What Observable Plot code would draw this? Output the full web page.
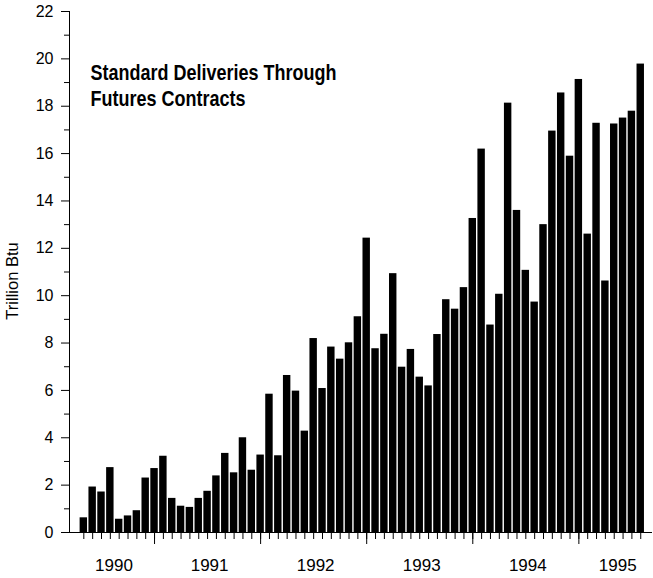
<!DOCTYPE html>
<html>
<head>
<meta charset="utf-8">
<script src="https://cdn.jsdelivr.net/npm/d3@7"></script>
<script src="https://cdn.jsdelivr.net/npm/@observablehq/plot@0.6"></script>
<style>
  html, body { margin: 0; padding: 0; background: #fff; }
  #chart { width: 653px; height: 578px; }
</style>
</head>
<body>
<div id="chart"></div>
<script>
// Monthly standard deliveries through futures contracts, May 1990 – Aug 1995 (trillion Btu)
const firstYear = 1990;
const firstMonth = 5; // May
const deliveries = [
  0.62, 1.92, 1.71, 2.74, 0.56, 0.70, 0.92, 2.30,             // 1990 May–Dec
  2.70, 3.22, 1.44, 1.11, 1.06, 1.44, 1.74, 2.39, 3.34, 2.52, 4.00, 2.63, // 1991
  3.27, 5.84, 3.24, 6.63, 5.97, 4.28, 8.19, 6.08, 7.83, 7.32, 8.01, 9.11, // 1992
  12.43, 7.76, 8.37, 10.93, 6.98, 7.73, 6.56, 6.19, 8.36, 9.83, 9.43, 10.34, // 1993
  13.26, 16.19, 8.76, 10.06, 18.13, 13.60, 11.07, 9.73, 13.00, 16.95, 18.56, 15.89, // 1994
  19.13, 12.60, 17.28, 10.62, 17.25, 17.50, 17.79, 19.78      // 1995 Jan–Aug
];
const yearLabels = ["1990", "1991", "1992", "1993", "1994", "1995"];
const yTickLabels = [0, 2, 4, 6, 8, 10, 12, 14, 16, 18, 20, 22];
const titleLines = ["Standard Deliveries Through", "Futures Contracts"];
const yAxisTitle = "Trillion Btu";

const months = deliveries.map((v, i) => ({
  i,
  year: firstYear + Math.floor((firstMonth - 1 + i) / 12),
  month: ((firstMonth - 1 + i) % 12) + 1,
  v
}));

const xMin = -1.62, xMax = 64.33;
const janIdx = months.filter(d => d.month === 1).map(d => d.i);
const yearPos = yearLabels.map(y => {
  const yr = +y;
  const start = (yr - firstYear) * 12 - (firstMonth - 1);
  const end = start + 12;
  return {label: y, x: (Math.max(start, xMin) + Math.min(end, xMax)) / 2};
});
const minorY = d3.range(1, 22, 2);

const font = "'Liberation Sans', Arial, Helvetica, sans-serif";

const chart = Plot.plot({
  width: 653,
  height: 578,
  marginLeft: 69,
  marginRight: 1,
  marginTop: 11,
  marginBottom: 46,
  style: {fontFamily: font, color: "#000", background: "#fff"},
  x: {type: "linear", domain: [xMin, xMax], axis: null},
  y: {domain: [0, 22], axis: null},
  marks: [
    Plot.rectY(months, {x1: d => d.i - 0.42, x2: d => d.i + 0.42, y1: 0, y2: "v", fill: "#000"}),
    // axes lines
    Plot.ruleX([xMin], {y1: 0, y2: 22, stroke: "#000", strokeWidth: 1}),
    Plot.ruleY([0], {x1: xMin, x2: xMax, stroke: "#000", strokeWidth: 1}),
    // y ticks
    Plot.axisY(yTickLabels, {anchor: "left", label: null, tickSize: 8, tickPadding: 8, fontSize: 16, stroke: "#000"}),
    Plot.axisY(minorY, {anchor: "left", label: null, tickSize: 5, tickFormat: () => "", stroke: "#000"}),
    // x ticks
    Plot.axisX(months.map(d => d.i), {anchor: "bottom", label: null, tickSize: 7, tickFormat: () => "", stroke: "#000"}),
    Plot.axisX(janIdx, {anchor: "bottom", label: null, tickSize: 12, tickFormat: () => "", stroke: "#000"}),
    // year labels
    Plot.text(yearPos, {x: "x", y: 0, text: "label", dy: 33, dx: 2, fontSize: 17, fill: "#000"}),
    // y axis title
    Plot.text([yAxisTitle], {frameAnchor: "left", dx: -57, dy: 9, rotate: -90, textAnchor: "middle", fontSize: 16.5, fill: "#000"}),
    // title
    Plot.text([titleLines.join("\n")], {frameAnchor: "top-left", dx: 21, dy: 50, lineAnchor: "top", lineHeight: 1.22, fontSize: 18, fontWeight: "bold", fill: "#000", textAnchor: "start", className: "chart-title"})
  ]
});
// slightly taller title lettering, as in the reference
d3.select(chart).selectAll(".chart-title text").each(function() {
  const t = this.getAttribute("transform") || "";
  this.setAttribute("transform", t + " scale(1,1.18)");
});
document.getElementById("chart").appendChild(chart);
</script>
</body>
</html>
